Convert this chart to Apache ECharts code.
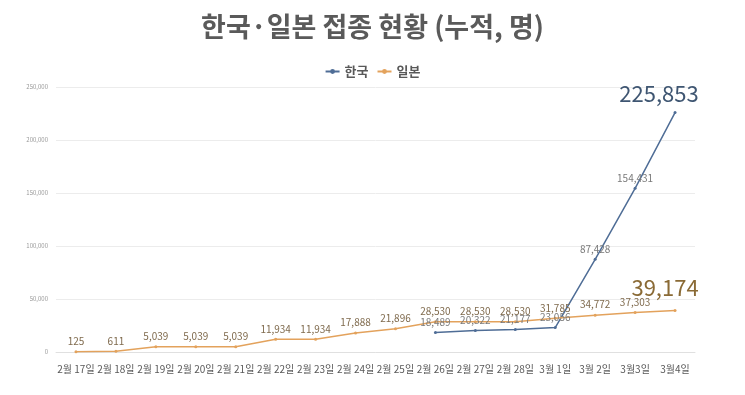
<!DOCTYPE html>
<html><head><meta charset="utf-8">
<script src="https://cdn.jsdelivr.net/npm/echarts@6/dist/echarts.min.js"></script>
<style>html,body{margin:0;padding:0;background:#fff}#c{width:745px;height:395px}</style>
</head><body><div id="c"></div>
<script>
const categories = ['2월 17일','2월 18일','2월 19일','2월 20일','2월 21일','2월 22일','2월 23일','2월 24일','2월 25일','2월 26일','2월 27일','2월 28일','3월 1일','3월 2일','3월3일','3월4일'];
const korea = [null,null,null,null,null,null,null,null,null,18489,20322,21177,23056,87428,154431,225853];
const japan = [125,611,5039,5039,5039,11934,11934,17888,21896,28530,28530,28530,31785,34772,37303,39174];
const yTicks = [0,50000,100000,150000,200000,250000];

const font = '"Noto Sans CJK KR", "Noto Sans", sans-serif';
const fmt = v => v.toLocaleString('en-US');

function build(arr, bigColor, offset) {
  return arr.map((v, i) => {
    if (v == null) return null;
    if (i === arr.length - 1) {
      return { value: v, label: { fontSize: 22, color: bigColor, offset: offset } };
    }
    return v;
  });
}

const chart = echarts.init(document.getElementById('c'));
chart.setOption({
  animation: false,
  title: {
    text: '한국·일본 접종 현황 (누적, 명)',
    left: 'center', top: 8,
    textStyle: { fontFamily: font, fontSize: 27, fontWeight: 'bold', color: '#5a5a5a' }
  },
  legend: {
    top: 60, left: 'center',
    itemWidth: 14, itemHeight: 6, itemGap: 8,
    textStyle: { fontFamily: font, fontSize: 13, fontWeight: 'bold', color: '#595959' },
    data: ['한국', '일본']
  },
  grid: { left: 56, right: 50, top: 87, bottom: 43 },
  xAxis: {
    type: 'category', data: categories, boundaryGap: true,
    axisLine: { show: true, lineStyle: { color: '#e0e0e0' } },
    axisTick: { show: false },
    axisLabel: { fontFamily: font, fontSize: 10, color: '#595959', interval: 0, margin: 12 }
  },
  yAxis: {
    type: 'value', min: yTicks[0], max: yTicks[yTicks.length - 1], interval: 50000,
    axisLine: { show: false }, axisTick: { show: false },
    splitLine: { lineStyle: { color: '#ececec' } },
    axisLabel: { fontFamily: font, fontSize: 6, color: '#999999', margin: 8, formatter: v => fmt(v) }
  },
  series: [
    {
      name: '한국', type: 'line', data: build(korea, '#3f5672', [-16, -2]),
      connectNulls: false,
      symbol: 'circle', symbolSize: 3,
      lineStyle: { color: '#4f6d96', width: 1.5 },
      itemStyle: { color: '#4f6d96' },
      label: { show: true, position: 'top', distance: 4, fontFamily: font, fontSize: 10, color: '#7a7a7a', formatter: p => fmt(p.value) }
    },
    {
      name: '일본', type: 'line', data: build(japan, '#8a6a35', [-10, -6]),
      symbol: 'circle', symbolSize: 3,
      lineStyle: { color: '#e3a25c', width: 1.5 },
      itemStyle: { color: '#e3a25c' },
      label: { show: true, position: 'top', distance: 4, fontFamily: font, fontSize: 10, color: '#7f6a4d', formatter: p => fmt(p.value) }
    }
  ]
});
</script></body></html>
